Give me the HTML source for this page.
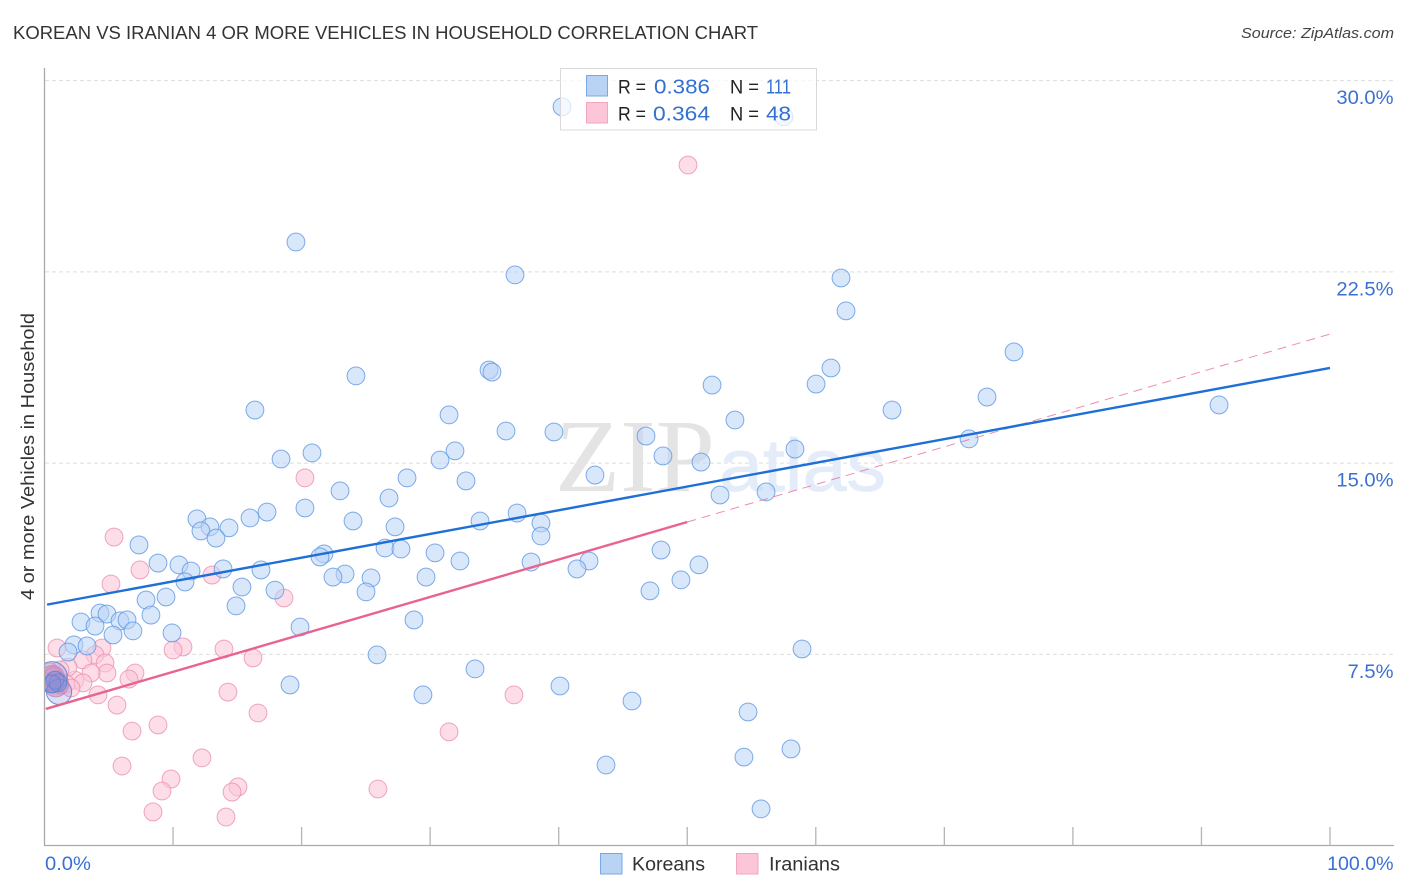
<!DOCTYPE html>
<html lang="en">
<head>
<meta charset="utf-8">
<title>Korean vs Iranian 4 or More Vehicles in Household Correlation Chart</title>
<style>
  html, body { margin: 0; padding: 0; background: #fff; }
  body { width: 1406px; height: 892px; overflow: hidden; }
  svg { display: block; font-family: "Liberation Sans", sans-serif; }
</style>
</head>
<body>
<svg id="chart" xmlns="http://www.w3.org/2000/svg" width="1406" height="892" viewBox="0 0 1406 892">
  <defs>
    <clipPath id="plot-clip"><rect x="45" y="60" width="1360" height="786"/></clipPath>
  </defs>
  <rect x="0" y="0" width="1406" height="892" fill="#ffffff"/>
  <text x="13" y="39" font-size="18" fill="#333333" textLength="745" lengthAdjust="spacingAndGlyphs">KOREAN VS IRANIAN 4 OR MORE VEHICLES IN HOUSEHOLD CORRELATION CHART</text>
  <text x="1241" y="38" font-size="15" font-style="italic" fill="#444444" textLength="153" lengthAdjust="spacingAndGlyphs">Source: ZipAtlas.com</text>
  <g id="grid"></g>
  <g>
    <text x="555" y="491" font-family="'Liberation Serif', serif" font-size="104" fill="#e4e4e4" textLength="160" lengthAdjust="spacingAndGlyphs">ZIP</text>
    <text x="719" y="491" font-size="74" fill="#e4ecf9" stroke="#e4ecf9" stroke-width="0.8" textLength="167" lengthAdjust="spacingAndGlyphs">atlas</text>
  </g>
  <g id="axes"></g>
  <g id="ticklabels"></g>
  <text transform="translate(34,600) rotate(-90)" x="0" y="0" font-size="18.5" fill="#333333" textLength="287" lengthAdjust="spacingAndGlyphs">4 or more Vehicles in Household</text>
  <g id="points" clip-path="url(#plot-clip)"></g>
  <g id="trends"></g>

  <g>
    <rect x="560.5" y="68.5" width="256" height="61.5" fill="#ffffff" fill-opacity="0.72" stroke="#d9d9d9" stroke-width="1"/>
    <rect x="586.5" y="75.5" width="21" height="20.5" fill="#b9d3f5" stroke="#7ba7e6" stroke-width="1"/>
    <rect x="586.5" y="102.5" width="21" height="20.5" fill="#fcc6d8" stroke="#f2a6bf" stroke-width="1"/>
    <text x="618" y="93.5" font-size="19.5" fill="#222222" textLength="28" lengthAdjust="spacingAndGlyphs">R =</text>
    <text x="654" y="93.5" font-size="20" fill="#3470d2" textLength="56" lengthAdjust="spacingAndGlyphs">0.386</text>
    <text x="730" y="93.5" font-size="19.5" fill="#222222" textLength="29" lengthAdjust="spacingAndGlyphs">N =</text>
    <text x="766" y="93.5" font-size="20" fill="#3470d2" textLength="25" lengthAdjust="spacingAndGlyphs">111</text>
    <text x="618" y="120.5" font-size="19.5" fill="#222222" textLength="28" lengthAdjust="spacingAndGlyphs">R =</text>
    <text x="653" y="120.5" font-size="20" fill="#3470d2" textLength="57" lengthAdjust="spacingAndGlyphs">0.364</text>
    <text x="730" y="120.5" font-size="19.5" fill="#222222" textLength="29" lengthAdjust="spacingAndGlyphs">N =</text>
    <text x="766" y="120.5" font-size="20" fill="#3470d2" textLength="25" lengthAdjust="spacingAndGlyphs">48</text>
  </g>

  <g>
    <rect x="600.5" y="853.5" width="21.5" height="20.5" fill="#b9d3f5" stroke="#7ba7e6" stroke-width="1"/>
    <text x="632" y="870.5" font-size="19" fill="#333333" textLength="73" lengthAdjust="spacingAndGlyphs">Koreans</text>
    <rect x="736.5" y="853.5" width="21.5" height="20.5" fill="#fcc6d8" stroke="#f2a6bf" stroke-width="1"/>
    <text x="769" y="870.5" font-size="19" fill="#333333" textLength="71" lengthAdjust="spacingAndGlyphs">Iranians</text>
  </g>
</svg>
<script>
const xTickValues = [0, 10, 20, 30, 40, 50, 60, 70, 80, 90, 100];
const yTickValues = [7.5, 15, 22.5, 30];
const yTickLabels = ["7.5%", "15.0%", "22.5%", "30.0%"];
const xEndLabels = ["0.0%", "100.0%"];

const koreanX = [40.26,57.53,19.56,36.60,61.96,62.35,75.42,61.18,24.23,34.58,34.81,51.93,60.02,73.32,91.37,65.93,16.37,31.47,53.71,35.90,39.63,46.79,71.92,58.38,20.81,31.93,30.77,18.40,48.11,51.07,42.82,28.20,32.79,22.99,56.13,52.55,26.80,20.26,17.31,36.76,15.99,11.86,24.00,33.88,12.87,38.62,14.35,27.27,12.17,13.34,38.62,7.35,26.49,27.73,47.96,21.74,21.43,30.38,32.32,8.83,10.46,37.85,42.36,50.91,41.42,16.84,13.89,11.40,23.38,22.44,25.40,29.68,49.51,10.93,15.36,17.93,47.10,25.01,7.90,9.45,14.90,4.32,4.86,8.28,28.74,2.84,3.93,5.87,6.42,19.88,6.88,9.92,5.33,58.93,2.29,3.31,1.83,25.87,33.49,19.10,40.10,29.44,45.70,54.73,58.07,54.41,43.68,55.74];
const koreanY = [28.97,28.58,23.67,22.38,22.26,20.97,19.36,18.73,18.42,18.65,18.57,18.06,18.10,17.59,17.28,17.08,17.08,16.89,16.69,16.26,16.22,16.06,15.95,15.55,15.40,15.48,15.12,15.16,15.28,15.04,14.53,14.42,14.30,13.91,13.87,13.75,13.63,13.24,13.08,13.04,12.85,12.81,12.73,12.73,12.50,12.65,12.46,12.50,12.34,12.06,12.14,11.79,11.67,11.63,11.59,11.44,11.32,11.48,11.16,11.08,11.01,11.12,11.16,11.01,10.85,10.81,10.85,10.77,10.65,10.53,10.50,10.53,10.42,10.34,10.14,10.02,9.99,9.95,9.63,9.75,9.40,9.12,9.08,9.04,8.85,8.77,8.61,8.81,8.85,8.57,8.42,8.34,8.26,7.71,7.87,7.83,7.59,7.48,6.93,6.30,6.26,5.91,5.67,5.24,3.79,3.47,3.16,1.44];

const koreanClusterX = [0.58, 1.13, 0.82, 1.05, 0.58];
const koreanClusterY = [6.61, 6.03, 6.49, 6.38, 6.34];
const koreanClusterCounts = [3, 2, 1, 1, 1];

const iranianX = [50.06,20.26,5.41,5.17,7.43,13.03,18.63,10.77,10.00,13.96,0.97,4.47,3.93,2.99,4.71,16.22,4.86,3.62,7.04,6.57,2.37,2.99,1.83,1.21,4.16,5.64,14.27,16.61,8.83,6.81,31.47,36.52,12.25,6.03,9.84,9.14,15.05,14.59,25.94,8.44,14.12,0.43,0.66,0.89,0.27,1.21,1.67,2.06];
const iranianY = [26.69,14.42,12.10,10.26,10.81,10.61,9.71,7.79,7.67,7.71,7.75,7.75,7.48,7.28,7.16,7.36,6.77,6.77,6.77,6.53,6.49,6.38,7.00,6.89,5.91,5.51,6.02,5.20,4.73,4.49,4.46,5.91,3.44,3.12,2.61,2.14,2.30,2.10,2.22,1.32,1.12,6.81,6.65,6.49,6.41,6.30,6.34,6.18];

const iranianClusterX = [0.58, 0.89];
const iranianClusterY = [6.57, 6.33];
const iranianClusterCounts = [2, 2];

const koreanTrendX = [0.2, 100];
const koreanTrendY = [9.45, 18.73];
const iranianSolidX = [0.1, 50];
const iranianSolidY = [5.36, 12.69];
const iranianDashX = [50, 100];
const iranianDashY = [12.69, 20.06];

const svgNS = "http://www.w3.org/2000/svg";
const xScale = function (v) { return 44.5 + v * 12.855; };
const yScale = function (v) { return 845.6 - v * 25.5; };
const rScale = function (n) { return 8.9 * Math.sqrt(n); };

function make(tag, parent, attrs) {
  const el = document.createElementNS(svgNS, tag);
  Object.keys(attrs).forEach(function (k) { el.setAttribute(k, attrs[k]); });
  parent.appendChild(el);
  return el;
}

const grid = document.getElementById("grid");
const axes = document.getElementById("axes");
const tickLabels = document.getElementById("ticklabels");
const pointsG = document.getElementById("points");
const trends = document.getElementById("trends");

function widen(label, factor) {
  label.setAttribute("textLength", (label.getComputedTextLength() * factor).toFixed(1));
  label.setAttribute("lengthAdjust", "spacingAndGlyphs");
}

yTickValues.forEach(function (v, i) {
  const line = make("line", grid, { x1: 45, x2: 1394, y1: yScale(v), y2: yScale(v), stroke: "#dddddd", "stroke-width": 1, "stroke-dasharray": "4 3" });
  
  
  const label = make("text", tickLabels, { x: 1393.5, y: yScale(v) + 23.5, "text-anchor": "end", "font-size": 19, fill: "#3a70d2" });
  
  
  label.textContent = yTickLabels[i];
  widen(label, 1.06);
});

const yAxis = make("line", axes, { x1: 44.5, x2: 44.5, y1: 68, y2: 845.5, stroke: "#aaaaaa", "stroke-width": 1.3 });


const xAxis = make("line", axes, { x1: 44, x2: 1394, y1: 845.5, y2: 845.5, stroke: "#aaaaaa", "stroke-width": 1.3 });



xTickValues.forEach(function (v) {
  if (v === 0) return;
  const tick = make("line", axes, { x1: xScale(v), x2: xScale(v), y1: 827, y2: 845.5, stroke: "#b5b5b5", "stroke-width": 1.3 });
  
  
});

const xStart = make("text", tickLabels, { x: xScale(xTickValues[0]) + 0.5, y: 870, "font-size": 19, fill: "#3a70d2" });


xStart.textContent = xEndLabels[0];
widen(xStart, 1.06);
const xEnd = make("text", tickLabels, { x: 1393.5, y: 870, "text-anchor": "end", "font-size": 19, fill: "#3a70d2" });


xEnd.textContent = xEndLabels[1];
widen(xEnd, 1.03);

const pinkStyle = { fill: "#fcc6d8", "fill-opacity": 0.58, stroke: "#ec8fb0", "stroke-opacity": 0.8, "stroke-width": 1 };
const blueStyle = { fill: "#b9d3f5", "fill-opacity": 0.55, stroke: "#5f97e2", "stroke-opacity": 0.8, "stroke-width": 1 };
const pinkClusterStyle = { fill: "#e67fa8", "fill-opacity": 0.5, stroke: "#e67fa8", "stroke-opacity": 0.8, "stroke-width": 1 };
const blueClusterStyle = { fill: "#7f8fe0", "fill-opacity": 0.28, stroke: "#5a86d8", "stroke-opacity": 0.9, "stroke-width": 1 };

function circleAttrs(x, y, r, style) {
  return Object.assign({ cx: xScale(x), cy: yScale(y), r: r }, style);
}

iranianX.forEach(function (v, i) {
  const c = make("circle", pointsG, circleAttrs(v, iranianY[i], rScale(1), pinkStyle));
  
  
});
koreanX.forEach(function (v, i) {
  const c = make("circle", pointsG, circleAttrs(v, koreanY[i], rScale(1), blueStyle));
  
  
});
iranianClusterX.forEach(function (v, i) {
  const c = make("circle", pointsG, circleAttrs(v, iranianClusterY[i], rScale(iranianClusterCounts[i]), pinkClusterStyle));
  
  
});
koreanClusterX.forEach(function (v, i) {
  const c = make("circle", pointsG, circleAttrs(v, koreanClusterY[i], rScale(koreanClusterCounts[i]), blueClusterStyle));
  
  
});

const dash = make("line", trends, { x1: xScale(iranianDashX[0]), y1: yScale(iranianDashY[0]), x2: xScale(iranianDashX[1]), y2: yScale(iranianDashY[1]), stroke: "#e8709a", "stroke-width": 1, "stroke-dasharray": "9 6", "stroke-opacity": 0.8 });


const iranLine = make("line", trends, { x1: xScale(iranianSolidX[0]), y1: yScale(iranianSolidY[0]), x2: xScale(iranianSolidX[1]), y2: yScale(iranianSolidY[1]), stroke: "#e8648f", "stroke-width": 2.4 });


const korLine = make("line", trends, { x1: xScale(koreanTrendX[0]), y1: yScale(koreanTrendY[0]), x2: xScale(koreanTrendX[1]), y2: yScale(koreanTrendY[1]), stroke: "#1f6fd8", "stroke-width": 2.4 });


</script>
</body>
</html>
